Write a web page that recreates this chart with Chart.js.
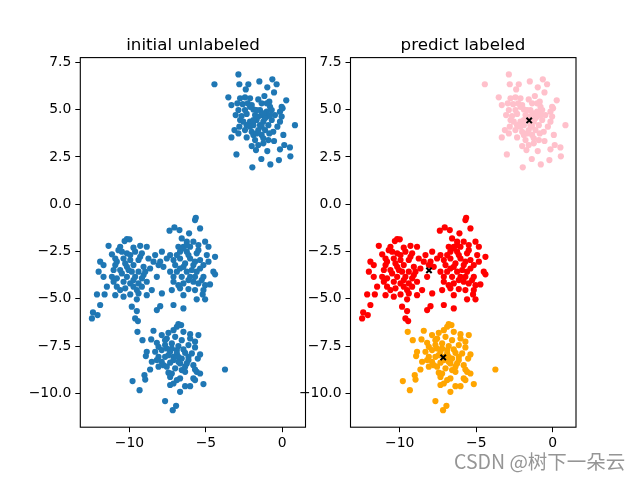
<!DOCTYPE html>
<html>
<head>
<meta charset="utf-8">
<script src="https://cdn.jsdelivr.net/npm/chart.js@4.4.0/dist/chart.umd.min.js"></script>
<style>
    body { margin: 0; background: #fff; }
    #wrap { position: relative; width: 640px; height: 480px; font-family: "DejaVu Sans", sans-serif; }
    canvas { position: absolute; left: 0; top: 0; }
    .title { position: absolute; top: 34px; font-size: 16.7px; transform: translateX(-50%); white-space: nowrap; color: #000; }
    .mark { position: absolute; left: 454px; top: 446px; font-size: 19.5px; color: rgba(130, 130, 130, 0.85);
            font-family: "Noto Sans CJK SC", "DejaVu Sans", sans-serif; white-space: nowrap; }
</style>
</head>
<body>
<div id="wrap">
    <canvas id="leftChart" width="640" height="480"></canvas>
    <canvas id="rightChart" width="640" height="480"></canvas>
    <div class="title" style="left:193px">initial unlabeled</div>
    <div class="title" style="left:463px">predict labeled</div>
    <div class="mark">CSDN @树下一朵云</div>
</div>
<script>
// Axis ticks and limits
const xTicks = [-10, -5, 0];
const yTicks = [7.5, 5.0, 2.5, 0.0, -2.5, -5.0, -7.5, -10.0];
const xLimits = [-13.22, 1.52];
const yLimits = [-11.79, 7.75];

// Cluster 0 (top right, pink)
const pinkPoints = [
    [-2.87,6.86],[-0.65,6.60],[-1.50,6.49],[-4.44,6.34],[-2.81,6.34],[-2.22,6.34],[-0.37,6.34],[-0.98,6.18],
    [-2.39,6.07],[-0.54,5.91],[-1.17,5.72],[-3.53,5.65],[-2.76,5.60],[-2.44,5.65],[-2.11,5.60],[-1.57,5.54],
    [-0.85,5.42],[0.26,5.49],[-3.33,5.24],[-2.94,5.33],[-2.59,5.29],[-2.26,5.33],[-2.00,5.24],[-1.35,5.33],
    [-0.80,5.15],[-0.04,5.15],[-2.87,4.98],[-2.44,4.98],[-1.89,5.01],[-1.46,4.98],[-1.02,4.89],[-0.69,4.98],
    [-0.15,4.89],[0.02,5.07],[-3.05,4.71],[-2.66,4.66],[-2.33,4.77],[-1.78,4.71],[-1.35,4.71],[-1.02,4.63],
    [-0.48,4.71],[-0.04,4.63],[-2.76,4.45],[-2.11,4.36],[-1.68,4.45],[-1.24,4.36],[-0.69,4.45],[-0.15,4.36],
    [-0.32,4.10],[-2.33,4.18],[-1.89,4.18],[-1.46,4.18],[-0.91,4.18],[0.83,4.18],[-2.81,4.10],[-3.13,3.92],
    [-2.44,3.92],[-2.00,3.83],[-1.57,3.92],[-1.13,3.92],[-0.59,3.83],[-2.87,3.74],[-1.89,3.66],[-1.35,3.66],
    [-0.85,3.74],[0.07,3.66],[-3.33,3.53],[-2.33,3.53],[-1.78,3.39],[-1.24,3.48],[-0.91,3.39],[-0.54,3.34],
    [-2.00,3.07],[-1.57,3.13],[-1.24,3.22],[0.13,3.13],[0.50,3.00],[-1.72,2.86],[-0.98,2.81],[-0.15,2.90],
    [-3.00,2.63],[0.53,2.53],[-1.37,2.39],[-0.22,2.33],[-0.78,2.10],[-1.96,1.95],
    [-2.11,5.15],[-1.68,4.98],[-1.24,4.80],[-1.57,4.63],[-1.89,4.45],[-1.35,4.10],[-1.68,3.74],[-2.11,4.10],
    [-1.13,4.54],[-0.80,4.71],[-2.55,4.36],[-1.02,5.33]
];

// Cluster 1 (middle, red)
const redPoints = [
    [-5.66,-0.72],[-5.71,-0.84],[-7.06,-1.23],[-7.38,-1.40],[-6.73,-1.37],[-5.38,-1.28],[-6.10,-1.54],
    [-10.17,-1.84],[-10.32,-1.95],[-10.00,-1.86],[-6.58,-1.81],[-6.25,-1.98],[-5.82,-1.98],[-5.05,-1.98],[-5.49,-2.16],
    [-11.37,-2.20],[-9.30,-2.20],[-8.87,-2.25],[-9.74,-2.30],[-10.61,-2.25],[-6.47,-2.25],[-6.03,-2.25],[-4.83,-2.25],[-6.80,-2.25],
    [-11.15,-2.65],[-10.50,-2.51],[-10.17,-2.60],[-9.63,-2.51],[-9.19,-2.60],[-7.88,-2.51],[-8.32,-2.69],[-7.34,-2.69],
    [-6.69,-2.51],[-6.25,-2.51],[-5.60,-2.60],[-4.94,-2.69],[-4.40,-2.78],
    [-11.92,-3.04],[-10.93,-2.87],[-10.39,-2.87],[-9.95,-2.95],[-9.41,-2.95],[-8.76,-2.87],[-8.43,-3.04],[-7.99,-3.04],
    [-7.56,-2.87],[-7.12,-2.95],[-6.69,-2.87],[-6.03,-2.87],[-5.38,-2.95],[-4.83,-3.04],
    [-11.70,-3.22],[-10.93,-3.22],[-10.17,-3.31],[-9.74,-3.22],[-9.08,-3.31],[-8.65,-3.40],[-8.10,-3.22],[-7.78,-3.31],
    [-7.01,-3.22],[-6.47,-3.31],[-5.82,-3.22],[-5.16,-3.22],
    [-12.02,-3.57],[-10.61,-3.48],[-9.85,-3.57],[-9.41,-3.57],[-8.97,-3.57],[-7.34,-3.57],[-6.90,-3.57],[-6.25,-3.57],
    [-5.60,-3.57],[-4.51,-3.57],[-4.40,-3.71],
    [-11.70,-3.84],[-11.15,-3.84],[-10.83,-3.92],[-10.17,-3.84],[-9.63,-3.84],[-9.19,-3.92],[-8.21,-3.84],[-7.12,-3.84],
    [-6.58,-3.84],[-6.03,-3.84],[-5.16,-3.84],
    [-11.04,-4.10],[-10.39,-4.10],[-9.95,-4.19],[-9.41,-4.19],[-8.87,-4.10],[-7.12,-4.10],[-6.47,-4.19],[-5.82,-4.10],
    [-5.49,-4.19],[-5.05,-4.28],[-4.73,-4.24],
    [-11.48,-4.36],[-10.83,-4.36],[-10.28,-4.45],[-9.74,-4.36],[-9.19,-4.36],[-8.54,-4.54],[-7.23,-4.54],[-6.69,-4.45],
    [-6.14,-4.49],[-5.71,-4.54],[-5.16,-4.54],
    [-12.13,-4.77],[-11.63,-4.77],[-10.93,-4.81],[-10.39,-4.89],[-9.95,-4.77],[-9.41,-4.72],[-8.87,-4.81],[-7.88,-4.72],
    [-6.47,-4.81],[-5.21,-4.77],
    [-9.52,-5.03],[-5.60,-5.03],[-5.05,-5.03],
    [-11.92,-5.33],[-9.85,-5.42],[-7.99,-5.39],[-7.12,-5.33],[-6.47,-5.51],[-8.21,-5.60],
    [-12.39,-5.72],[-12.09,-5.86],[-9.52,-5.65],[-12.46,-6.04],[-9.63,-6.04],[-9.45,-6.18],
    [-10.72,-2.43],[-9.95,-2.69],[-10.83,-3.04],[-10.50,-3.66],[-10.06,-3.48],[-9.74,-4.01],[-10.61,-4.54],[-9.08,-3.75],
    [-10.28,-3.13],[-9.52,-4.54],[-11.04,-3.48],[-9.30,-2.78],
    [-6.47,-2.34],[-6.14,-2.69],[-5.71,-3.04],[-6.36,-3.13],[-6.69,-3.40],[-5.92,-3.48],[-5.38,-3.40],[-6.14,-4.01],
    [-6.80,-4.28],[-5.71,-3.84],[-6.25,-2.16],[-5.49,-2.43],[-6.90,-2.69],[-5.27,-4.01]
];

// Cluster 2 (bottom, orange)
const orangePoints = [
    [-6.80,-6.34],[-6.62,-6.39],[-6.90,-6.48],[-8.43,-6.69],[-7.45,-6.80],[-7.12,-6.66],[-6.47,-6.75],[-7.89,-6.92],
    [-6.03,-6.87],[-5.49,-6.92],[-9.48,-6.75],[-9.15,-7.19],[-8.58,-7.15],[-8.21,-7.33],[-7.56,-7.10],[-7.01,-7.01],
    [-6.58,-7.19],[-6.03,-7.10],[-5.71,-7.27],[-8.10,-7.54],[-7.67,-7.45],[-7.23,-7.36],[-6.80,-7.50],[-6.14,-7.45],
    [-5.71,-7.57],[-8.87,-7.80],[-8.32,-7.80],[-7.89,-7.71],[-7.34,-7.80],[-6.90,-7.71],[-6.36,-7.86],[-5.92,-7.89],
    [-5.38,-7.94],[-8.93,-8.03],[-8.10,-8.07],[-7.67,-8.07],[-7.12,-8.07],[-6.58,-8.16],[-6.14,-8.07],[-5.53,-8.16],
    [-8.54,-8.33],[-7.89,-8.33],[-7.34,-8.38],[-6.80,-8.33],[-6.25,-8.42],[-5.82,-8.51],[-8.65,-8.74],[-8.10,-8.59],
    [-7.56,-8.59],[-7.01,-8.68],[-6.58,-8.77],[-5.71,-8.74],[-3.75,-8.74],[-7.45,-8.91],[-6.36,-8.86],[-5.60,-8.86],
    [-5.38,-8.95],[-9.02,-9.04],[-7.34,-9.13],[-5.82,-9.21],[-8.97,-9.27],[-9.80,-9.35],[-6.90,-9.30],[-6.69,-9.21],
    [-5.71,-9.30],[-5.16,-9.51],[-7.34,-9.56],[-7.12,-9.48],[-6.36,-9.62],[-6.03,-9.62],[-9.34,-9.83],[-6.69,-9.92],
    [-7.67,-10.41],[-6.95,-10.66],[-7.17,-10.89],
    [-7.67,-7.19],[-7.23,-7.63],[-7.45,-7.98],[-6.90,-7.89],[-6.47,-7.68],[-6.69,-8.42],[-7.12,-8.24],[-7.78,-8.51],
    [-6.14,-8.24],[-8.21,-8.24],[-7.23,-8.95],[-6.80,-8.07],[-7.56,-7.63],[-6.36,-8.59]
];

// Cluster centres found by the model
const centerPoints = [[-1.54, 4.43], [-8.09, -3.50], [-7.16, -8.10]];

const toXY = pts => pts.map(p => ({ x: p[0], y: p[1] }));

// Full box round the plot area, like matplotlib spines
const framePlugin = {
    id: 'frame',
    afterDraw(chart) {
        const { ctx, chartArea: a } = chart;
        ctx.save();
        ctx.strokeStyle = '#000';
        ctx.lineWidth = 1.1;
        ctx.strokeRect(a.left, a.top, a.right - a.left, a.bottom - a.top);
        ctx.restore();
    }
};

function fmtTick(value, digits) {
    return value.toFixed(digits).replace('-', '\u2212');
}

function makeChart(canvasId, datasets, padLeft, padRight) {
    const tickFont = { family: 'DejaVu Sans', size: 13.9 };
    return new Chart(document.getElementById(canvasId), {
        type: 'scatter',
        data: { datasets },
        options: {
            responsive: false,
            animation: false,
            events: [],
            layout: { padding: { left: padLeft, right: padRight, top: 57.6, bottom: 22.8 } },
            plugins: { legend: { display: false }, tooltip: { enabled: false }, title: { display: false } },
            scales: {
                x: {
                    type: 'linear',
                    min: xLimits[0],
                    max: xLimits[1],
                    afterBuildTicks: scale => { scale.ticks = xTicks.map(v => ({ value: v })); },
                    afterFit: scale => { scale.height = 30; },
                    border: { display: false },
                    grid: { drawOnChartArea: false, drawTicks: true, tickLength: 5, color: '#000', lineWidth: 1 },
                    ticks: { color: '#000', font: tickFont, padding: 3, maxRotation: 0,
                             callback: v => fmtTick(v, 0) }
                },
                y: {
                    type: 'linear',
                    min: yLimits[0],
                    max: yLimits[1],
                    afterBuildTicks: scale => { scale.ticks = yTicks.map(v => ({ value: v })); },
                    afterFit: scale => { scale.width = 80.3; },
                    border: { display: false },
                    grid: { drawOnChartArea: false, drawTicks: true, tickLength: 5, color: '#000', lineWidth: 1 },
                    ticks: { color: '#000', font: tickFont, padding: 4,
                             callback: v => fmtTick(v, 1) }
                }
            }
        },
        plugins: [framePlugin]
    });
}

function scatterSet(points, color) {
    return {
        data: toXY(points),
        pointRadius: 3.1,
        pointBackgroundColor: color,
        pointBorderWidth: 0,
        order: 1
    };
}

// Left: all samples, no labels
makeChart('leftChart', [
    scatterSet(pinkPoints.concat(redPoints, orangePoints), '#1f77b4')
], 0, 334.5);

// Right: samples coloured by predicted cluster, with centres
makeChart('rightChart', [
    scatterSet(pinkPoints, 'pink'),
    scatterSet(redPoints, 'red'),
    scatterSet(orangePoints, 'orange'),
    {
        data: toXY(centerPoints),
        pointStyle: 'crossRot',
        pointRadius: 3.8,
        pointBorderColor: '#000',
        pointBorderWidth: 2,
        order: 0
    }
], 270.2, 64);
</script>
</body>
</html>
